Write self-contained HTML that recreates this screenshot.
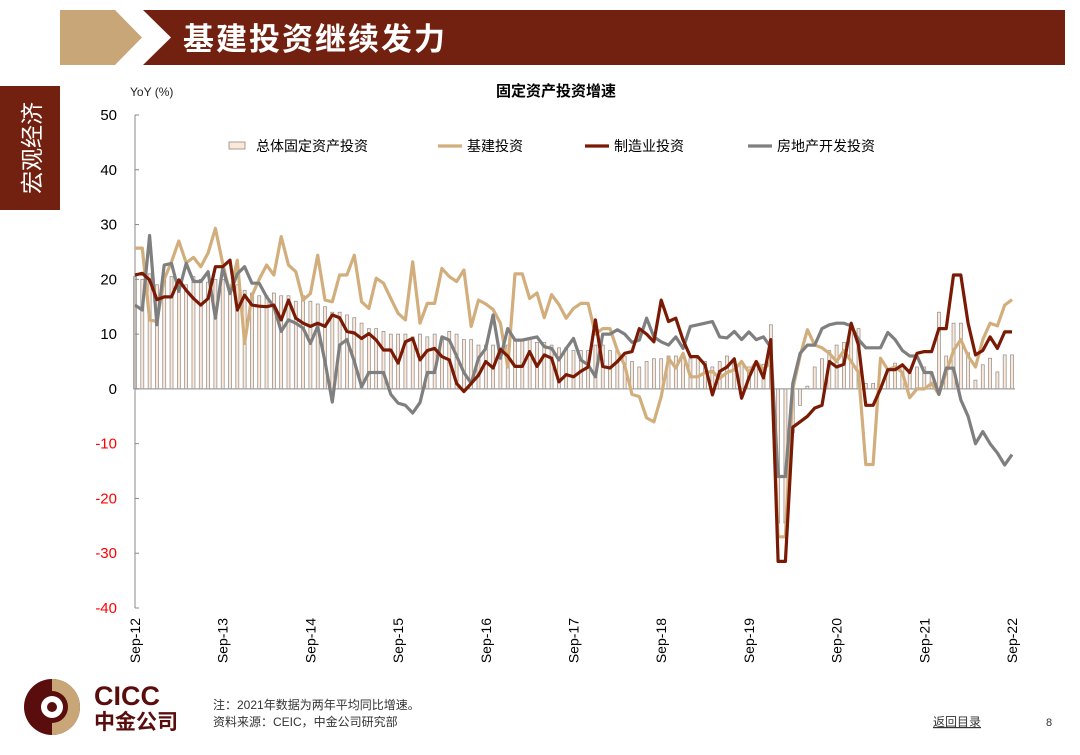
<!DOCTYPE html>
<html><head><meta charset="utf-8">
<style>
body{margin:0;width:1080px;height:755px;background:#fff;overflow:hidden;position:relative;font-family:"Liberation Sans","Noto Sans CJK SC",sans-serif;}
svg{position:absolute;left:0;top:0;}
</style></head>
<body>
<svg width="1080" height="755" viewBox="0 0 1080 755">
<polygon points="60,10 115,10 142,37.5 115,65 60,65" fill="#c9a677"/>
<polygon points="143,10 1065,10 1065,65 143,65 171,37.5" fill="#722010"/>
<text x="183" y="50" font-size="31" font-weight="bold" fill="#fff" font-family="'Noto Sans CJK SC',sans-serif" letter-spacing="2">基建投资继续发力</text>
<rect x="0" y="86" width="60" height="124" fill="#722010"/>
<text x="30" y="148" font-size="23" fill="#fff" font-family="'Noto Sans CJK SC',sans-serif" text-anchor="middle" transform="rotate(-90 30 148)" dominant-baseline="central">宏观经济</text>
<text x="556" y="96" font-size="15" font-weight="bold" text-anchor="middle" fill="#000">固定资产投资增速</text>
<text x="130" y="96" font-size="12" fill="#222">YoY (%)</text>
<g id="chart"></g>
<g>
<circle cx="52" cy="707" r="28" fill="#5a0d0d"/>
<path d="M52,679 A28,28 0 0 1 52,735 L52,723 A16,16 0 0 0 52,691 Z" fill="#c9a677"/>
<circle cx="52" cy="707" r="11" fill="#fff"/>
<circle cx="52" cy="707" r="5" fill="#5a0d0d"/>
<text x="94" y="705" font-size="27" font-weight="bold" fill="#5a0d0d">CICC</text>
<text x="94" y="729" font-size="21" font-weight="bold" fill="#5a0d0d" font-family="'Noto Sans CJK SC',sans-serif">中金公司</text>
</g>
<text x="213" y="709" font-size="12" fill="#333">注：2021年数据为两年平均同比增速。</text>
<text x="213" y="726" font-size="12" fill="#333">资料来源：CEIC，中金公司研究部</text>
<text x="933" y="726" font-size="12" fill="#333" text-decoration="underline">返回目录</text>
<text x="1046" y="726" font-size="11" fill="#333">8</text>
</svg>
<script>
const xLabels=["Sep-12","Sep-13","Sep-14","Sep-15","Sep-16","Sep-17","Sep-18","Sep-19","Sep-20","Sep-21","Sep-22"];
const yTicks=[50,40,30,20,10,0,-10,-20,-30,-40];
const totalFAI=[20.5,20,21,19,21,20.5,20,19,20.5,20,19.5,20,
20,19,19,18,17.5,17,17,17.5,17,17,16,17,
16,15.5,15,14,14,13.5,13,12,11,11,10.5,10,
10,10,9.5,10,9.5,10,9,10.5,10,9,9,8,
8,8,7.5,8,9,9,9,8.5,8.5,8,7.5,7.5,
7,7,7,8,8,7,7,6,5,4,5,5.5,
5.5,6,6,5.5,5.5,5.5,5,4,5,6,5,4.5,
4,5,4.5,11.7,-24.5,-24.5,-8,-3,0.5,4,5.5,7,
8,8.5,11.7,11,1,1,0.5,3.5,4.7,4,3,4,
4,3,14,6,12,12,6.6,1.6,4.4,5.6,3.1,6.2,6.2];
const infra=[25.7,25.7,12.6,12.3,20,23.2,27,23,24,22.3,24.8,29.3,
22.9,17.4,23.5,8.3,17,20,22.6,20.8,27.8,22.6,21.4,16.2,
17.4,24.4,16.2,15.9,20.8,20.8,24.4,15.9,14.7,20.2,19.3,16.5,
13.8,12.6,23.2,12,15.6,15.6,22,20.5,19.6,21.7,11.4,16.2,
15.5,14.5,12,4,21,21,16.5,17.5,13,17.2,15.4,12.9,
14.7,15.6,15.6,10,11,11,7,4.3,-1,-1.4,-5.3,-6,
-1.4,5.6,3.8,6.5,2.2,2.2,3,3.2,1.9,3,3.5,5,
3,5,3.5,5,-27,-27,0,6,10.8,8,7.5,6.5,
5,7,5,3,-13.8,-13.8,5.6,3.5,4,3,-1.6,0,
0,1,-1,3,7,9,6,4,9,12,11.5,15.3,16.3];
const manuf=[20.8,21.1,19.9,16.3,16.8,16.8,19.9,18,16.5,15.3,16.5,22.3,
22.3,23.5,14.4,17.1,15.3,15.1,15,15.3,12.6,16.2,12.9,12,
11.4,12,11.4,13.5,13,10.5,10.2,9.2,10.1,8.9,7.1,7.1,
4.7,8.6,9.2,5.3,7,7.4,5.9,5.3,1,-0.5,1,2.5,
5,3.8,7.2,6,4.1,4.1,6.8,4.1,6.2,5.6,1.3,2.6,
2.2,3.2,4,12.6,4.1,3.8,5,6.5,6.8,11,10,8.6,
16.2,12.3,12.9,8.9,5.9,5.9,4.4,-1.1,3.2,4,5.5,-1.7,
2,5,2,9,-31.5,-31.5,-7,-6,-5,-3.5,-3,5,
4,4.5,12,8,-3,-3,0,3.5,3.5,4.4,3,6.5,
6.8,6.8,11,11,20.8,20.8,12,6.2,7,9.5,7.4,10.4,10.4];
const realEstate=[15.3,14.4,28,11.7,22.6,22.9,17.8,22.9,19.6,19.6,21.4,12.9,
22.1,17.4,21,22.3,19.3,19.3,16.8,15,10.5,12.6,12,11.1,
8.3,11.4,5,-2.4,8,9,5,0.4,3,3,3,-1,
-2.6,-3,-4.4,-2.5,3,3,9.5,8.9,6,3,1,5.6,
7.4,13.5,5.6,11,8.9,8.9,9.2,9.5,7.7,7.4,5.3,7.4,
9.2,5.3,4.4,2.2,10,10,10.8,10,8.5,8.9,12.9,9.5,
8.6,8,9.5,7.4,11.4,11.7,12,12.3,9.5,9.3,10.5,9,
10.4,9,9.5,7.6,-16,-16,1,6.5,8,8,11,11.7,
12,12,11.5,9,7.5,7.5,7.5,10.3,9,7,6,6,
3,3,-1,3.8,3.8,-2,-5,-10,-7.8,-10,-11.7,-13.9,-12];

const NS="http://www.w3.org/2000/svg";
const g=document.getElementById('chart');
const X0=135,X1=1012,Y0=115,Y1=608,VMAX=50,VMIN=-40,N=totalFAI.length;
function xs(i){return X0+(X1-X0)*i/(N-1);}
function ys(v){return Y0+(VMAX-v)*(Y1-Y0)/(VMAX-VMIN);}
function mk(tag,attrs){const e=document.createElementNS(NS,tag);for(const k in attrs)e.setAttribute(k,attrs[k]);g.appendChild(e);return e;}

totalFAI.forEach((v,i)=>{
  const y=Math.min(ys(v),ys(0)),h=Math.abs(ys(v)-ys(0));
  const b=mk('rect',{x:xs(i)-1.5,y:y,width:3,height:h,fill:'#fde8d8',stroke:'#8a8a8a','stroke-width':0.7});
  
  
});
const zl=mk('line',{x1:X0,x2:1015,y1:ys(0),y2:ys(0),stroke:'#a0a0a0','stroke-width':1.2});


const ax=mk('line',{x1:X0,x2:X0,y1:Y0,y2:Y1,stroke:'#888','stroke-width':1});


yTicks.forEach(t=>{
  const tk=mk('line',{x1:X0,x2:X0+4,y1:ys(t),y2:ys(t),stroke:'#888','stroke-width':1});
  
  
  const tx=mk('text',{x:117,y:ys(t)+5,'font-size':15,'text-anchor':'end',fill:t<0?'#ff0000':'#000'});
  tx.textContent=t;
  
  
});
xLabels.forEach((l,k)=>{
  const x=xs(k*12)+5,y=618;
  const tx=mk('text',{x:x,y:y,'font-size':14,'text-anchor':'end',fill:'#000',transform:`rotate(-90 ${x} ${y})`});
  tx.textContent=l;
  
  
});
function line(arr,color,name){
  const d=arr.map((v,i)=>(i?'L':'M')+xs(i).toFixed(1)+','+ys(v).toFixed(1)).join('');
  const p=mk('path',{d:d,fill:'none',stroke:color,'stroke-width':3.2,'stroke-linejoin':'round'});
  
  
}
line(infra,'#d2ae7c','line-infrastructure');
line(realEstate,'#7f7f7f','line-real-estate');
line(manuf,'#7a1a04','line-manufacturing');

const lg=[{t:'总体固定资产投资',x:229,type:'bar'},{t:'基建投资',x:438,c:'#d2ae7c'},{t:'制造业投资',x:585,c:'#7a1a04'},{t:'房地产开发投资',x:748,c:'#7f7f7f'}];
lg.forEach(o=>{
  let s;
  if(o.type==='bar'){s=mk('rect',{x:o.x,y:142,width:16,height:7,fill:'#fde8d8',stroke:'#8a8a8a','stroke-width':0.8});}
  else{s=mk('line',{x1:o.x,x2:o.x+24,y1:146,y2:146,stroke:o.c,'stroke-width':3.2});}
  
  
  const tx=mk('text',{x:o.x+(o.type==='bar'?27:29),y:151,'font-size':14,fill:'#000'});
  tx.textContent=o.t;
  
  
});
</script>
</body></html>
